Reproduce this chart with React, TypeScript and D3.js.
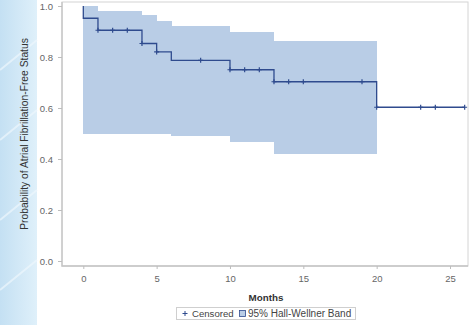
import React, { useEffect, useRef } from 'react';
import * as d3 from 'd3';

// Kaplan-Meier step values (time, survival after step)
const stepTimes = [0, 0, 1, 4, 5, 6, 10, 13, 20];
const stepSurvival = [1.0, 0.952, 0.905, 0.853, 0.82, 0.787, 0.75, 0.703, 0.603];
const endTime = 26;

// censored observations
const censorTimes = [1, 2, 3, 4, 5, 8, 10, 11, 12, 13, 14, 15, 19, 20, 23, 24, 26];

// 95% Hall-Wellner band, piecewise constant
const bandStarts = [0, 1, 4, 5, 6, 10, 13];
const bandEnds = [1, 4, 5, 6, 10, 13, 20];
const bandUpper = [1.0, 0.98, 0.963, 0.942, 0.922, 0.897, 0.864];
const bandLower = [0.497, 0.497, 0.497, 0.497, 0.49, 0.465, 0.418];

const xTicks = [0, 5, 10, 15, 20, 25];
const yTicks = [0, 0.2, 0.4, 0.6, 0.8, 1.0];

const lineColor = '#2f4b8e';
const bandColor = '#b9cde6';
const font = 'Arial, "Liberation Sans", sans-serif';

const KMChart: React.FC = () => {
  const svgRef = useRef<SVGSVGElement | null>(null);

  useEffect(() => {
    if (!svgRef.current) return;
    const svg = d3.select(svgRef.current);
    svg.selectAll('*').remove();

    const width = 470;
    const height = 325;
    const frame = { left: 62, right: 468, top: 2, bottom: 266 };

    // left decorative strip
    const defs = svg.append('defs');
    const grad = defs.append('linearGradient').attr('id', 'strip').attr('x1', 0).attr('x2', 1);
    grad.append('stop').attr('offset', '0%').attr('stop-color', '#c4e0f3');
    grad.append('stop').attr('offset', '100%').attr('stop-color', '#dff0fa');

    svg.append('rect').attr('width', width).attr('height', height).attr('fill', '#fff');
    svg.append('rect').attr('width', 37).attr('height', height).attr('fill', 'url(#strip)');
    [40, 110, 190, 260].forEach((y0) => {
      svg
        .append('line')
        .attr('x1', 0)
        .attr('y1', y0 + 30)
        .attr('x2', 37)
        .attr('y2', y0)
        .attr('stroke', '#eef7fd')
        .attr('stroke-width', 2)
        .attr('opacity', 0.7);
    });

    const x = d3.scaleLinear().domain([0, 25]).range([83.3, 450]);
    const y = d3.scaleLinear().domain([0, 1]).range([261, 6]);

    const g = svg.append('g');

    // Band
    const bandData = bandStarts.map((s, i) => ({ s, e: bandEnds[i], up: bandUpper[i], lo: bandLower[i] }));
    g.selectAll('rect.band')
      .data(bandData)
      .enter()
      .append('rect')
      .attr('class', 'band')
      .attr('x', (d) => x(d.s))
      .attr('width', (d) => x(d.e) - x(d.s) + 0.3)
      .attr('y', (d) => y(d.up))
      .attr('height', (d) => y(d.lo) - y(d.up))
      .attr('fill', bandColor)
      .attr('shape-rendering', 'crispEdges');

    // Survival step line
    const pts: [number, number][] = stepTimes.map((t, i) => [t, stepSurvival[i]]);
    pts.push([endTime, stepSurvival[stepSurvival.length - 1]]);
    const line = d3
      .line<[number, number]>()
      .x((d) => x(d[0]))
      .y((d) => y(d[1]))
      .curve(d3.curveStepAfter);
    g.append('path')
      .attr('d', line(pts))
      .attr('fill', 'none')
      .attr('stroke', lineColor)
      .attr('stroke-width', 1.3);

    // censor marks
    const survAt = (t: number) => {
      let s = 1;
      stepTimes.forEach((st, i) => {
        if (st <= t) s = stepSurvival[i];
      });
      return s;
    };
    g.selectAll('path.censor')
      .data(censorTimes)
      .enter()
      .append('path')
      .attr('class', 'censor')
      .attr('d', (d) => {
        const cx = x(d);
        const cy = y(survAt(d));
        return `M${cx - 2.5},${cy}H${cx + 2.5}M${cx},${cy - 2.5}V${cy + 2.5}`;
      })
      .attr('stroke', lineColor)
      .attr('stroke-width', 1.2);

    // frame
    svg
      .append('rect')
      .attr('x', frame.left)
      .attr('y', frame.top)
      .attr('width', frame.right - frame.left)
      .attr('height', frame.bottom - frame.top)
      .attr('fill', 'none')
      .attr('stroke', '#d4d4d4')
      .attr('stroke-width', 1);
    svg
      .append('path')
      .attr('d', `M${frame.left},${frame.top}V${frame.bottom}H${frame.right}`)
      .attr('fill', 'none')
      .attr('stroke', '#c4c4c4')
      .attr('stroke-width', 1.3);

    // Y axis
    const yAxis = svg
      .append('g')
      .attr('transform', `translate(${frame.left},0)`)
      .call(
        d3
          .axisLeft(y)
          .tickValues(yTicks)
          .tickSize(4)
          .tickPadding(5)
          .tickFormat(d3.format('.1f'))
      );
    yAxis.select('.domain').remove();
    yAxis.selectAll('line').attr('stroke', '#bdbdbd');
    yAxis.selectAll('text').attr('fill', '#666').attr('font-size', 9.5).attr('font-family', font);

    // X axis
    const xAxis = svg
      .append('g')
      .attr('transform', `translate(0,${frame.bottom})`)
      .call(d3.axisBottom(x).tickValues(xTicks).tickSize(3).tickPadding(6.5));
    xAxis.select('.domain').remove();
    xAxis.selectAll('line').attr('stroke', '#bdbdbd');
    xAxis.selectAll('text').attr('fill', '#666').attr('font-size', 9.5).attr('font-family', font);

    // titles
    svg
      .append('text')
      .attr('transform', `translate(28,${(frame.top + frame.bottom) / 2}) rotate(-90)`)
      .attr('text-anchor', 'middle')
      .attr('font-size', 10.3)
      .attr('font-family', font)
      .attr('fill', '#333')
      .text('Probability of Atrial Fibrillation-Free Status');

    svg
      .append('text')
      .attr('x', 266)
      .attr('y', 301)
      .attr('text-anchor', 'middle')
      .attr('font-size', 9.8)
      .attr('font-weight', 'bold')
      .attr('font-family', font)
      .attr('fill', '#333')
      .text('Months');

    // legend
    const lg = svg.append('g');
    lg.append('rect')
      .attr('x', 176.5)
      .attr('y', 307.5)
      .attr('width', 179)
      .attr('height', 12)
      .attr('fill', '#fff')
      .attr('stroke', '#cfcfcf');
    lg.append('path')
      .attr('d', 'M182.5,313.5H187.5M185,311V316')
      .attr('stroke', lineColor)
      .attr('stroke-width', 1);
    lg.append('text')
      .attr('x', 192)
      .attr('y', 317)
      .attr('font-size', 9.6)
      .attr('font-family', font)
      .attr('fill', '#444')
      .text('Censored');
    lg.append('rect')
      .attr('x', 239.5)
      .attr('y', 310.5)
      .attr('width', 6)
      .attr('height', 6)
      .attr('fill', bandColor)
      .attr('stroke', lineColor)
      .attr('stroke-width', 0.8);
    lg.append('text')
      .attr('x', 248)
      .attr('y', 317)
      .attr('font-size', 10)
      .attr('font-family', font)
      .attr('fill', '#444')
      .text('95% Hall-Wellner Band');
  }, []);

  return <svg ref={svgRef} width={470} height={325} style={{ position: 'absolute', left: 0, top: 0 }} />;
};

export default function App() {
  return <KMChart />;
}
